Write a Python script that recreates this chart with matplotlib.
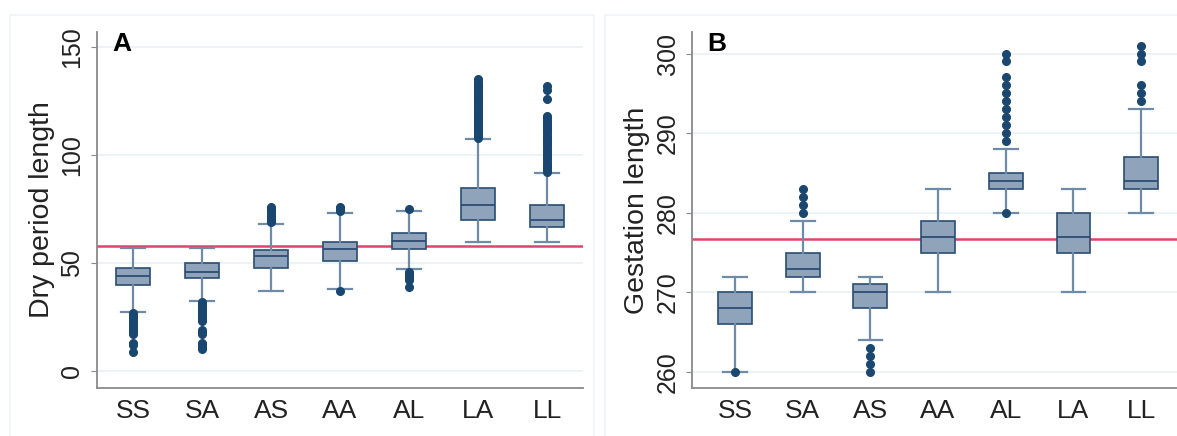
import numpy as np
import matplotlib
matplotlib.use('Agg')
import matplotlib.pyplot as plt
from matplotlib.patches import Rectangle

plt.rcParams['font.family'] = ['Liberation Sans', 'DejaVu Sans']

groups = ['SS', 'SA', 'AS', 'AA', 'AL', 'LA', 'LL']

# Panel A: dry period length (days)
dry_q1 = [39.8, 42.9, 47.8, 51.0, 56.6, 70.0, 66.6]
dry_med = [44.2, 45.9, 53.1, 56.3, 60.2, 76.8, 70.1]
dry_q3 = [47.9, 50.0, 55.9, 59.7, 64.0, 84.6, 77.0]
dry_lo = [27.5, 32.6, 36.9, 37.8, 47.1, 59.8, 59.8]
dry_hi = [56.9, 57.0, 68.1, 73.0, 73.9, 107.5, 91.7]
dry_fliers = [
    [27, 26, 25, 24, 23, 22, 21, 20, 19, 18, 17, 13, 12, 9],
    [32, 31, 30, 29, 28, 27, 26, 25, 24, 23, 19, 18, 17, 13, 12, 11, 10],
    [69, 70, 71, 72, 73, 74, 75, 76],
    [74, 75, 76, 37],
    [75, 46, 45, 44, 43, 42, 39],
    [108, 109, 110, 111, 112, 113, 114, 115, 116, 117, 118, 119, 120, 121,
     122, 123, 124, 125, 126, 127, 128, 129, 130, 131, 132, 133, 134, 135],
    [92, 93, 94, 95, 96, 97, 98, 99, 100, 101, 102, 103, 104, 105, 106, 107,
     108, 109, 110, 111, 112, 113, 114, 115, 116, 117, 118, 126, 130, 132],
]
dry_ref = 58.0

# Panel B: gestation length (days)
gest_q1 = [266, 272, 268, 275, 283, 275, 283]
gest_med = [268, 273, 270, 277, 284, 277, 284]
gest_q3 = [270, 275, 271, 279, 285, 280, 287]
gest_lo = [260, 270, 264, 270, 280, 270, 280]
gest_hi = [272, 279, 272, 283, 288, 283, 293]
gest_fliers = [
    [260],
    [280, 281, 282, 283],
    [263, 262, 261, 260],
    [],
    [280, 289, 290, 291, 292, 293, 294, 295, 296, 297, 299, 300],
    [],
    [294, 295, 296, 299, 300, 301],
]
gest_ref = 276.7

face = '#8FA3BA'
edge = '#2B4D72'
whisk = '#6F8BA7'
dot = '#1A476F'
grid = '#EAF2F3'
spine = '#8A8A8A'
red = '#E0446A'


def stats(q1, med, q3, lo, hi, fliers):
  return [dict(q1=a, med=m, q3=b, whislo=l, whishi=h, fliers=f, label=g)
          for a, m, b, l, h, f, g in zip(q1, med, q3, lo, hi, fliers, groups)]


def panel(ax, st, ref, ylim, yticks, ylabel, letter, xlim):
  ax.set_ylim(*ylim)
  ax.set_xlim(*xlim)
  ax.set_yticks(yticks)
  for t in yticks:
    ax.axhline(t, color=grid, lw=1.3, zorder=0)
  ax.axhline(ref, color=red, lw=1.8, zorder=1)
  ax.bxp(st, positions=range(1, 8), widths=0.5, capwidths=0.35,
         patch_artist=True,
         boxprops=dict(facecolor=face, edgecolor=edge, linewidth=1.2),
         medianprops=dict(color=edge, linewidth=1.3),
         whiskerprops=dict(color=whisk, linewidth=1.6),
         capprops=dict(color=whisk, linewidth=1.6),
         flierprops=dict(marker='o', markersize=5.5, markerfacecolor=dot,
                         markeredgecolor=dot))
  for s in ['top', 'right']:
    ax.spines[s].set_visible(False)
  for s in ['left', 'bottom']:
    ax.spines[s].set_color(spine)
    ax.spines[s].set_linewidth(1.3)
  ax.tick_params(axis='y', labelsize=18, colors='#222222', length=4,
                 color=spine, pad=5, labelrotation=90)
  for lab in ax.get_yticklabels():
    lab.set_verticalalignment('center')
  ax.tick_params(axis='x', labelsize=19, length=0, pad=8,
                 colors='#222222')
  ax.set_ylabel(ylabel, fontsize=20.5, color='#222222', labelpad=4)
  ax.text(0.032, 1.0, letter, transform=ax.transAxes, fontsize=19,
          fontweight='bold', va='top', ha='left')


fig = plt.figure(figsize=(11.77, 4.36), dpi=100)

# light panel frames
fig.patches.append(Rectangle((10 / 1177, -0.01), 584 / 1177, 1 - 15 / 436 + 0.01,
                             transform=fig.transFigure, fill=False,
                             edgecolor='#EEF4F6', lw=1.2))
fig.patches.append(Rectangle((605 / 1177, -0.01), 0.5, 1 - 15 / 436 + 0.01,
                             transform=fig.transFigure, fill=False,
                             edgecolor='#EEF4F6', lw=1.2))

ax1 = fig.add_axes([97 / 1177, 1 - 388 / 436, 486 / 1177, 356 / 436])
ax2 = fig.add_axes([692 / 1177, 1 - 388 / 436, 485 / 1177, 356 / 436])

panel(ax1, stats(dry_q1, dry_med, dry_q3, dry_lo, dry_hi, dry_fliers),
      dry_ref, (-7.9, 157), [0, 50, 100, 150], 'Dry period length', 'A',
      (0.478, 7.52))
panel(ax2, stats(gest_q1, gest_med, gest_q3, gest_lo, gest_hi, gest_fliers),
      gest_ref, (258.0, 302.7), [260, 270, 280, 290, 300], 'Gestation length',
      'B', (0.365, 7.53))

fig.savefig('out.png', dpi=100)
